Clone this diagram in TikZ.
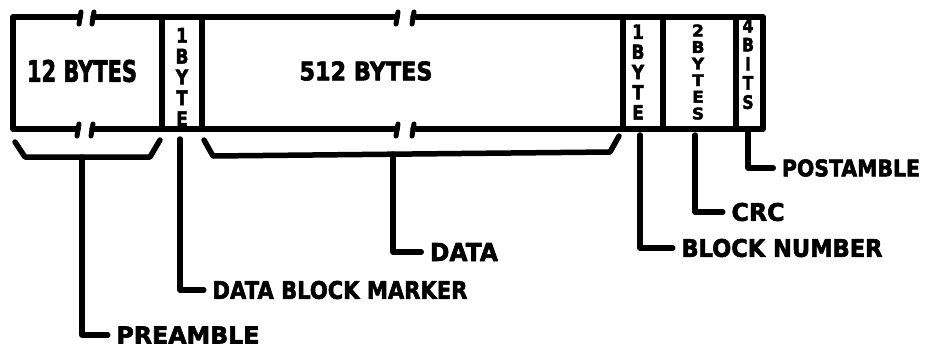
\documentclass[tikz,border=0pt]{standalone}
\usepackage{fontspec}
\setmainfont{DejaVu Sans}[BoldFeatures={FakeBold=2.5}]
\newcommand\lblfit[3]{\resizebox{#1pt}{#2pt}{\bfseries #3}}
\begin{document}
\begin{tikzpicture}[x=1pt,y=-1pt,line width=5.5pt,line cap=round,line join=round,
  lbl/.style={inner xsep=6pt,inner ysep=0pt,anchor=center},
  vlbl/.style={inner sep=0pt},
  brk/.style={line width=5pt}]
\useasboundingbox (0,0) rectangle (925,351);
% frame outline with breaks
\draw (80,17) -- (13,17) -- (13,129) -- (78,129);
\draw (93,17) -- (397,17);
\draw (413,17) -- (763,17) -- (763,129) -- (413,129);
\draw (92,129) -- (397,129);
% break ticks
\draw[brk] (79,24) -- (81,12) (92,24) -- (94,12);
\draw[brk] (77,136) -- (79,124) (91,136) -- (93,124);
\draw[brk] (396,24) -- (398,12) (412,24) -- (414,12);
\draw[brk] (396,136) -- (398,124) (412,136) -- (414,124);
% dividers
\foreach \x in {162,202,623,663,736} \draw (\x,17) -- (\x,129);
% field labels
\node[vlbl] (f12) at (82,71) {\lblfit{110}{22}{12 BYTES}};
\node[vlbl] (f512) at (366,71) {\lblfit{133}{19}{512 BYTES}};
\node[vlbl] (fm) at (182,77) {\lblfit{13}{98}{\shortstack{1\\B\\Y\\T\\E}}};
\node[vlbl] (fb) at (638,72) {\lblfit{13}{95}{\shortstack{1\\B\\Y\\T\\E}}};
\node[vlbl] (fc) at (698,72) {\lblfit{13}{95}{\shortstack{2\\B\\Y\\T\\E\\S}}};
\node[vlbl] (fp) at (748,64) {\lblfit{12}{90}{\shortstack{4\\B\\I\\T\\S}}};
% braces
\coordinate (pb) at (82,157);
\coordinate (db) at (393,154);
\draw (15,142) -- (25,157) -- (150,157) -- (160,140);
\draw (204,140) -- (213,156) -- (610,152) -- (619,136);
% leader start points
\coordinate (dm) at (180,139);
\coordinate (bn) at (640,135);
\coordinate (cr) at (695,135);
\coordinate (po) at (748,133);
% callout labels
\node[lbl] (pre) at (188,335) {\lblfit{143}{17}{PREAMBLE}};
\node[lbl] (dbm) at (340,290) {\lblfit{255}{18}{DATA BLOCK MARKER}};
\node[lbl] (dat) at (464,252) {\lblfit{68}{18}{DATA}};
\node[lbl] (bnl) at (782,248) {\lblfit{201}{18}{BLOCK NUMBER}};
\node[lbl] (crc) at (758,212) {\lblfit{53}{18}{CRC}};
\node[lbl] (pst) at (851,168) {\lblfit{138}{17}{POSTAMBLE}};
% leaders
\draw (pb) |- (pre.west);
\draw (dm) |- (dbm.west);
\draw (db) |- (dat.west);
\draw (bn) |- (bnl.west);
\draw (cr) |- (crc.west);
\draw (po) |- (pst.west);
\end{tikzpicture}
\end{document}
